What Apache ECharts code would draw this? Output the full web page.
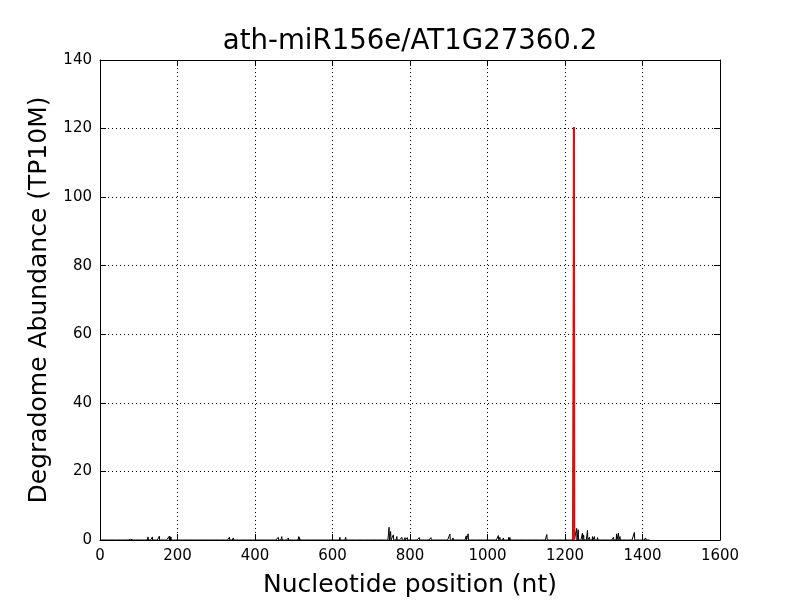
<!DOCTYPE html>
<html>
<head>
<meta charset="utf-8">
<script src="https://cdn.jsdelivr.net/npm/echarts@6/dist/echarts.min.js"></script>
<style>html,body{margin:0;padding:0;background:#fff}#c{width:800px;height:600px}</style>
</head>
<body>
<div id="c"></div>
<script>
var titleText = "ath-miR156e/AT1G27360.2";
var xLabel = "Nucleotide position (nt)";
var yLabel = "Degradome Abundance (TP10M)";
var transcriptLength = 1420;
// degradome peaks (black), position in nt and abundance
var peakPositions = [79, 124, 135, 153, 178, 180, 181, 183, 276, 334, 344, 366, 439, 460, 469, 486, 513, 515, 619, 634, 746, 750, 757, 766, 779, 787, 793, 824, 854, 903, 911, 945, 950, 1028, 1032, 1041, 1055, 1058, 1153, 1209, 1223, 1230, 1234, 1245, 1248, 1258, 1263, 1271, 1276, 1284, 1325, 1333, 1338, 1342, 1379, 1408];
var peakValues = [0.2, 0.9, 0.9, 1.1, 1.0, 1.1, 1.0, 0.9, 0.5, 0.8, 0.6, 0.5, 0.3, 0.8, 1.0, 0.6, 1.0, 0.7, 0.8, 0.8, 3.7, 2.5, 1.5, 1.0, 0.8, 0.7, 0.7, 0.7, 0.7, 1.7, 0.6, 1.2, 1.8, 1.3, 0.8, 0.6, 0.8, 0.7, 1.6, 0.5, 120.4, 3.4, 3.0, 2.0, 1.5, 2.8, 0.8, 1.0, 1.0, 0.7, 0.8, 1.8, 2.0, 1.0, 2.2, 0.6];
// miRNA cleavage site (red)
var sitePositions = [1223];
var siteValues = [120.4];
var xTicks = [0, 200, 400, 600, 800, 1000, 1200, 1400, 1600];
var yTicks = [0, 20, 40, 60, 80, 100, 120, 140];

var vals = {};
peakPositions.forEach(function(p, i){ vals[p] = peakValues[i]; });
var blackData = [];
for (var p = 1; p <= transcriptLength; p++) blackData.push([p, vals[p] || 0]);
var redData = [];
sitePositions.forEach(function(p, i){ redData.push([p - 1, 0]); redData.push([p, siteValues[i]]); redData.push([p + 1, 0]); });

var font = "DejaVu Sans";
var chart = echarts.init(document.getElementById('c'), null, {renderer: 'canvas'});
function fmt(v) { return String(v); }
function xAx(pos, labels) {
  return {
    type: 'value', position: pos, min: xTicks[0], max: xTicks[xTicks.length-1], interval: xTicks[1]-xTicks[0],
    name: labels ? xLabel : '', nameLocation: 'middle', nameGap: 33,
    nameTextStyle: {fontFamily: font, fontSize: 25, color: '#000'},
    axisLine: {show: true, onZero: false, lineStyle: {color: '#000', width: 1}},
    axisTick: {show: true, inside: true, length: 6, lineStyle: {color: '#000'}},
    axisLabel: {show: labels, fontFamily: font, fontSize: 15, color: '#000', margin: 9, formatter: fmt},
    splitLine: {show: labels, lineStyle: {color: '#000', type: [1, 3], width: 1}}
  };
}
function yAx(pos, labels) {
  return {
    type: 'value', position: pos, min: yTicks[0], max: yTicks[yTicks.length-1], interval: yTicks[1]-yTicks[0],
    name: labels ? yLabel : '', nameLocation: 'middle', nameGap: 38,
    nameTextStyle: {fontFamily: font, fontSize: 25, color: '#000'},
    axisLine: {show: true, onZero: false, lineStyle: {color: '#000', width: 1}},
    axisTick: {show: true, inside: true, length: 6, lineStyle: {color: '#000'}},
    axisLabel: {show: labels, fontFamily: font, fontSize: 15, color: '#000', margin: 8, formatter: fmt},
    splitLine: {show: labels, lineStyle: {color: '#000', type: [1, 3], width: 1}}
  };
}
chart.setOption({
  animation: false,
  backgroundColor: '#fff',
  graphic: [{type: 'text', x: 410, y: 56, style: {text: titleText, font: 'normal 27.6px "DejaVu Sans"', fill: '#000', textAlign: 'center', textVerticalAlign: 'bottom'}}],
  grid: {left: 100, right: 80, top: 60, bottom: 60, containLabel: false, outerBoundsMode: 'none'},
  xAxis: [xAx('bottom', true), xAx('top', false)],
  yAxis: [yAx('left', true), yAx('right', false)],
  series: [
    {type: 'line', data: blackData, showSymbol: false, symbol: 'none', lineStyle: {color: '#000', width: 1}, xAxisIndex: 0, yAxisIndex: 0, z: 2},
    {type: 'line', data: redData, showSymbol: false, symbol: 'none', lineStyle: {color: '#ff0000', width: 2}, xAxisIndex: 0, yAxisIndex: 0, z: 3}
  ]
});
</script>
</body>
</html>
